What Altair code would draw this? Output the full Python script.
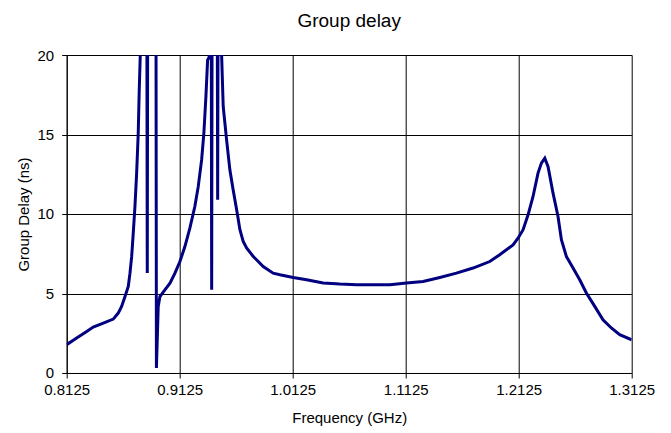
import altair as alt
import pandas as pd

freq_ghz = [0.8125, 0.8213, 0.8302, 0.8360, 0.8449, 0.8537, 0.8581, 0.8611, 0.8641, 0.8670,
            0.8685, 0.8700, 0.8714, 0.8729, 0.8744, 0.8758, 0.8767, 0.8776, 0.8786, 0.8834,
            0.8838, 0.8842, 0.8915, 0.8919, 0.8935, 0.8950, 0.8994, 0.9039, 0.9083, 0.9127,
            0.9171, 0.9215, 0.9259, 0.9289, 0.9319, 0.9339, 0.9357, 0.9372, 0.9385, 0.9400,
            0.9404, 0.9408, 0.9412, 0.9457, 0.9461, 0.9465, 0.9490, 0.9496, 0.9510, 0.9540,
            0.9569, 0.9598, 0.9629, 0.9658, 0.9687, 0.9717, 0.9776, 0.9864, 0.9952, 1.0012,
            1.0129, 1.0248, 1.0395, 1.0542, 1.0690, 1.0837, 1.0985, 1.1132, 1.1279, 1.1427,
            1.1574, 1.1721, 1.1869, 1.1957, 1.2075, 1.2119, 1.2164, 1.2208, 1.2252, 1.2296,
            1.2326, 1.2356, 1.2385, 1.2429, 1.2473, 1.2503, 1.2547, 1.2606, 1.2665, 1.2724,
            1.2798, 1.2871, 1.2945, 1.3019, 1.3125]
delay_ns = [1.78, 2.20, 2.61, 2.89, 3.14, 3.39, 3.77, 4.19, 4.81, 5.44,
            6.28, 7.33, 8.80, 10.47, 12.57, 15.08, 17.80, 20.00, 24.0, 24.0,
            6.29, 24.0, 24.0, 0.31, 4.19, 4.81, 5.23, 5.65, 6.28, 7.01,
            7.95, 9.11, 10.47, 11.72, 13.40, 15.08, 17.38, 19.69, 19.85, 24.0,
            24.0, 5.24, 24.0, 24.0, 10.90, 24.0, 24.0, 20.00, 16.76, 14.66,
            12.78, 11.52, 10.26, 9.01, 8.27, 7.86, 7.33, 6.70, 6.28, 6.18,
            6.01, 5.86, 5.66, 5.59, 5.55, 5.55, 5.55, 5.66, 5.76, 6.01,
            6.28, 6.60, 7.01, 7.44, 8.06, 8.48, 9.01, 9.95, 11.10, 12.57,
            13.20, 13.51, 12.98, 11.31, 9.84, 8.38, 7.33, 6.60, 5.86, 5.03,
            4.19, 3.35, 2.83, 2.41, 2.09]
x_ticks = [0.8125, 0.9125, 1.0125, 1.1125, 1.2125, 1.3125]
y_ticks = [0, 5, 10, 15, 20]

df = pd.DataFrame({"f": freq_ghz, "d": delay_ns})

FONT = "Liberation Sans"

chart = alt.Chart(df).mark_line(
    color="#000080", strokeWidth=3, clip=True
).encode(
    x=alt.X("f:Q", scale=alt.Scale(domain=[0.8125, 1.3125], nice=False, zero=False),
            axis=alt.Axis(values=x_ticks, format=".4f", title="Frequency (GHz)",
                          grid=True, gridColor="#000000", gridWidth=1,
                          domainColor="#000000", tickColor="#000000", tickSize=5,
                          labelFont=FONT, labelFontSize=15, labelColor="#000000",
                          labelPadding=5, titleFont=FONT, titleFontSize=15,
                          titleFontWeight="normal", titleColor="#000000", titlePadding=13,
                          labelFlush=False)),
    y=alt.Y("d:Q", scale=alt.Scale(domain=[0, 20], nice=False),
            axis=alt.Axis(values=y_ticks, title="Group Delay (ns)",
                          grid=True, gridColor="#000000", gridWidth=1,
                          domainColor="#000000", tickColor="#000000", tickSize=5,
                          labelFont=FONT, labelFontSize=15, labelColor="#000000",
                          labelPadding=8, titleFont=FONT, titleFontSize=15,
                          titleFontWeight="normal", titleColor="#000000", titlePadding=6)),
    order=alt.Order("f:Q"),
).properties(
    width=565,
    height=318,
    title=alt.TitleParams("Group delay", font=FONT, fontSize=19, fontWeight="normal",
                          color="#000000", anchor="middle", offset=17),
    autosize=alt.AutoSizeParams(type="none"),
    padding={"left": 58.7, "top": 47, "right": 30, "bottom": 55},
).configure_view(stroke=None)

chart.save("out.html", embed_options={"renderer": "svg", "actions": False})
